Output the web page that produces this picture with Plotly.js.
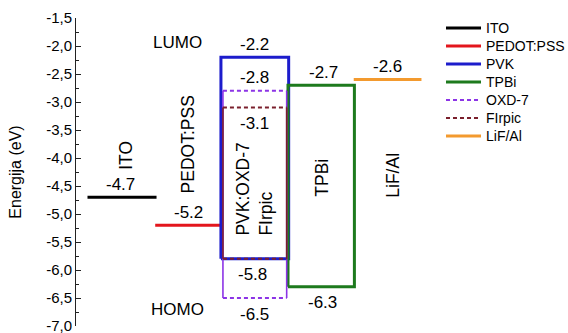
<!DOCTYPE html>
<html>
<head>
<meta charset="utf-8">
<script src="https://cdn.plot.ly/plotly-3.0.1.min.js"></script>
<style>html,body{margin:0;padding:0;background:#fff;}#chart{width:568px;height:333px;}</style>
</head>
<body>
<div id="chart"></div>
<script>
// ---- data ----
const layers = ['ITO', 'PEDOT:PSS', 'PVK', 'TPBi', 'OXD-7', 'FIrpic', 'LiF/Al'];
const lumo = [null, null, -2.2, -2.7, -2.8, -3.1, -2.6];
const homo = [-4.7, -5.2, -5.8, -6.3, -6.5, -5.8, null];
const tickVals = [-7.0, -6.5, -6.0, -5.5, -5.0, -4.5, -4.0, -3.5, -3.0, -2.5, -2.0, -1.5];
const tickText = ['-7,0', '-6,5', '-6,0', '-5,5', '-5,0', '-4,5', '-4,0', '-3,5', '-3,0', '-2,5', '-2,0', '-1,5'];

// ---- layout / style config ----
const slot = [0, 1, 2, 3, 2, 2, 4];          // horizontal slot of each layer
const halfW = [0.52, 0.5, 0.51, 0.5, 0.48, 0.48, 0.51];
const colors = ['#000000', '#e3161c', '#1c1ccc', '#1d7a1d', '#8c34e6', '#7a1f2c', '#f39a2e'];
const dashed = [false, false, false, false, true, true, false];
const widths = [3, 3, 3, 3, 2, 2, 3];
const DASH = '4px,3px';
const FONT = 'Liberation Sans, Arial, sans-serif';
const M = {l: 76, r: 0, t: 18, b: 7};
const W = 568, H = 333;
const PW = W - M.l - M.r, PH = H - M.t - M.b;
const px2x = p => (p - M.l) / PW;   // pixel -> paper
const px2y = p => (H - M.b - p) / PH;

const traces = [];
layers.forEach((name, i) => {
  const c = slot[i], h = halfW[i], l = c - h, r = c + h;
  const top = lumo[i], bot = homo[i];
  if (top === null || bot === null) {
    const v = top === null ? bot : top;
    traces.push({x: [l, r], y: [v, v], mode: 'lines', name: name, line: {color: colors[i], width: widths[i]}});
  } else if (!dashed[i]) {
    traces.push({x: [l, l, r, r, l], y: [bot, top, top, bot, bot], mode: 'lines', name: name,
      line: {color: colors[i], width: widths[i]}});
  } else {
    traces.push({x: [l, l, null, r, r], y: [top, bot, null, top, bot], mode: 'lines', name: name,
      line: {color: colors[i], width: 1.6}});
    traces.push({x: [l, r, null, l, r], y: [top, top, null, bot, bot], mode: 'lines', name: name,
      line: {color: colors[i], width: widths[i], dash: DASH}});
  }
});

// value labels: [layer index, 'lumo'|'homo', side, dx]
const valueLabels = [
  [0, 'homo', 1, -0.03], [1, 'homo', 1, 0], [2, 'lumo', 1, 0], [4, 'lumo', 1, 0],
  [5, 'lumo', -1, 0], [2, 'homo', -1, -0.03], [4, 'homo', -1, 0],
  [3, 'lumo', 1, 0.03], [3, 'homo', -1, 0.02], [6, 'lumo', 1, 0]
];
const annotations = valueLabels.map(([i, lev, side, dx]) => {
  const v = lev === 'lumo' ? lumo[i] : homo[i];
  return {x: slot[i] + dx, y: v, xref: 'x', yref: 'y', text: v.toFixed(1), showarrow: false,
    yshift: side > 0 ? 13 : -16, font: {family: FONT, size: 17, color: '#000'}};
});
const nameLabels = [
  {x: 0.07, y: -3.95, text: 'ITO'},
  {x: 1.0, y: -3.75, text: 'PEDOT:PSS'},
  {x: 2.0, y: -4.55, text: 'PVK:OXD-7<br>FIrpic', align: 'left'},
  {x: 3.02, y: -4.36, text: 'TPBi'},
  {x: 4.08, y: -4.3, text: 'LiF/Al'}
];
nameLabels.forEach(a => annotations.push(Object.assign({xref: 'x', yref: 'y', showarrow: false, textangle: -90,
  font: {family: FONT, size: 17.5, color: '#000'}}, a)));
annotations.push({x: 0.84, y: -1.93, xref: 'x', yref: 'y', text: 'LUMO', showarrow: false, font: {family: FONT, size: 17, color: '#000'}});
annotations.push({x: 0.84, y: -6.71, xref: 'x', yref: 'y', text: 'HOMO', showarrow: false, font: {family: FONT, size: 17, color: '#000'}});

// legend (drawn as shapes + text for exact spacing)
const LEG = {x0: 446, x1: 481, tx: 484, y0: 28, dy: 18};
const shapes = [];
layers.forEach((name, i) => {
  const yy = px2y(LEG.y0 + LEG.dy * i);
  shapes.push({type: 'line', xref: 'paper', yref: 'paper', x0: px2x(LEG.x0), x1: px2x(LEG.x1), y0: yy, y1: yy,
    line: {color: colors[i], width: widths[i], dash: dashed[i] ? DASH : 'solid'}});
  annotations.push({xref: 'paper', yref: 'paper', x: px2x(LEG.tx), y: yy, xanchor: 'left', yanchor: 'middle',
    text: name, showarrow: false, font: {family: FONT, size: 14, color: '#000'}});
});

const layout = {
  width: W, height: H,
  margin: {l: M.l, r: M.r, t: M.t, b: M.b, pad: 0},
  paper_bgcolor: '#fff', plot_bgcolor: '#fff',
  font: {family: FONT, size: 15, color: '#000'},
  showlegend: false,
  xaxis: {visible: false, range: [-0.693, 6.717], fixedrange: true},
  yaxis: {range: [-7.0, -1.5], showgrid: false, zeroline: false, showline: true, linecolor: '#222', linewidth: 1,
    ticks: 'inside', ticklen: 5, tickwidth: 1, tickcolor: '#222',
    tickmode: 'array', tickvals: tickVals, ticktext: tickText, ticklabeloverflow: 'allow',
    tickfont: {family: FONT, size: 15, color: '#000'},
    minor: {dtick: 0.25, tick0: -7, ticks: 'inside', ticklen: 3, tickcolor: '#222', showgrid: false},
    title: {text: 'Energija (eV)', font: {family: FONT, size: 16, color: '#000'}, standoff: 20}},
  shapes: shapes,
  annotations: annotations
};

Plotly.newPlot('chart', traces, layout, {staticPlot: true, displayModeBar: false});
</script>
</body>
</html>
